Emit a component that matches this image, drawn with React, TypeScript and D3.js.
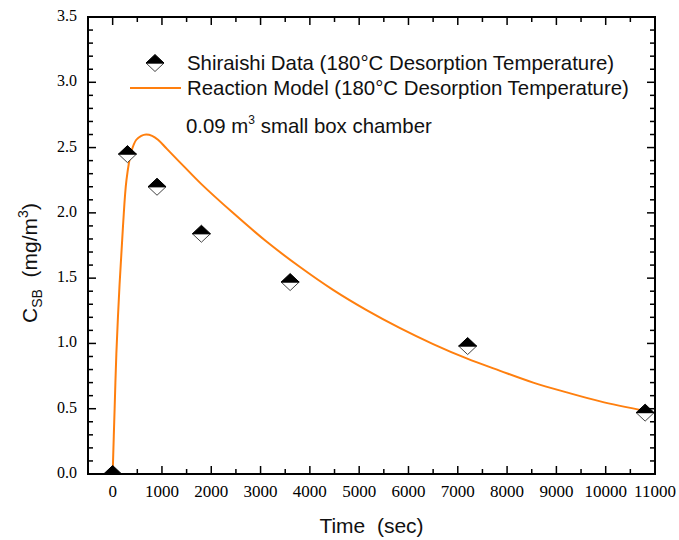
import React from 'react';
import * as d3 from 'd3';

// Shiraishi measured data
const dataTime = [0, 300, 900, 1800, 3600, 7200, 10800];
const dataConc = [0, 2.45, 2.2, 1.84, 1.47, 0.98, 0.47];

// reaction model curve
const modelTime = [0, 40, 75, 140, 210, 280, 380, 480, 580, 680, 800, 920, 1100, 1460, 1800, 2440, 3120, 3800, 4470, 5150, 5830, 6500, 7180, 7860, 8530, 9210, 9890, 10830];
const modelConc = [0, 0.5, 0.92, 1.45, 1.9, 2.25, 2.47, 2.56, 2.59, 2.6, 2.59, 2.56, 2.49, 2.35, 2.22, 2.0, 1.78, 1.585, 1.41, 1.255, 1.117, 0.995, 0.885, 0.79, 0.7, 0.625, 0.556, 0.48];

const xTicks = [0, 1000, 2000, 3000, 4000, 5000, 6000, 7000, 8000, 9000, 10000, 11000];
const yTicks = [0, 0.5, 1, 1.5, 2, 2.5, 3, 3.5];

const W = 679;
const H = 540;
const left = 88, right = 655, top = 17, bottom = 474;
const ORANGE = '#ff7f0e';

const Diamond = ({ cx, cy }: { cx: number; cy: number }) => {
  const a = 9, b = 8.5;
  return (
    <g>
      <path d={`M${cx - a},${cy}L${cx},${cy + b}L${cx + a},${cy}Z`} fill="#fff" stroke="#444" strokeWidth={1} />
      <path d={`M${cx - a},${cy}L${cx},${cy - b}L${cx + a},${cy}Z`} fill="#000" stroke="#000" strokeWidth={1} />
    </g>
  );
};

export default function App() {
  const x = d3.scaleLinear().domain([-500, 11000]).range([left, right]);
  const y = d3.scaleLinear().domain([0, 3.5]).range([bottom, top]);

  const line = d3
    .line<number>()
    .x((_, i) => x(modelTime[i]))
    .y((d) => y(d))
    .curve(d3.curveCatmullRom.alpha(0.5));

  const xMinor = d3.range(-500, 11001, 500);
  const yMinor = d3.range(0, 3.51, 0.1);
  const serif = '"Liberation Serif", "Times New Roman", serif';
  const sans = '"Liberation Sans", Arial, sans-serif';

  return (
    <svg width={W} height={H} style={{ position: 'absolute', left: 0, top: 0, background: '#fff' }}>
      <defs>
        <clipPath id="plot">
          <rect x={left} y={top} width={right - left} height={bottom - top} />
        </clipPath>
      </defs>

      {/* ticks on all four sides, pointing in */}
      <g stroke="#000" strokeWidth={1.5}>
        {xMinor.map((t) => {
          const major = t % 1000 === 0;
          const len = major ? 8 : 5;
          const px = x(t);
          if (px <= left + 1 || px >= right - 1) return null;
          return (
            <g key={'x' + t}>
              <line x1={px} x2={px} y1={bottom} y2={bottom - len} />
              <line x1={px} x2={px} y1={top} y2={top + len} />
            </g>
          );
        })}
        {yMinor.map((v, i) => {
          const major = i % 5 === 0;
          const len = major ? 8 : 5;
          const py = y(v);
          if (py >= bottom - 1 || py <= top + 1) return null;
          return (
            <g key={'y' + i}>
              <line x1={left} x2={left + len} y1={py} y2={py} />
              <line x1={right} x2={right - len} y1={py} y2={py} />
            </g>
          );
        })}
      </g>

      <g clipPath="url(#plot)">
        <path d={line(modelConc) || ''} fill="none" stroke={ORANGE} strokeWidth={2} />
        {dataTime.map((t, i) => (
          <Diamond key={i} cx={x(t)} cy={y(dataConc[i])} />
        ))}
      </g>

      <rect x={left} y={top} width={right - left} height={bottom - top} fill="none" stroke="#000" strokeWidth={2} />

      {/* tick labels */}
      <g fontFamily={serif} fontSize={17} fill="#000">
        {xTicks.map((t) => (
          <text key={t} x={x(t)} y={497} textAnchor="middle">
            {t}
          </text>
        ))}
      </g>
      <g fontFamily={serif} fontSize={16} fill="#000">
        {yTicks.map((v) => (
          <text key={v} x={77} y={y(v) + 4} textAnchor="end">
            {d3.format('.1f')(v)}
          </text>
        ))}
      </g>

      {/* axis titles */}
      <text x={(left + right) / 2} y={533} textAnchor="middle" fontFamily={sans} fontSize={21} fill="#111">
        Time{'\u00a0\u00a0'}(sec)
      </text>
      <text transform="translate(37,263) rotate(-90)" textAnchor="middle" fontFamily={sans} fontSize={21} fill="#111">
        C<tspan fontSize={14} dy={5}>SB</tspan>
        <tspan dy={-5}>{'\u00a0\u00a0'}(mg/m</tspan>
        <tspan fontSize={14} dy={-9}>3</tspan>
        <tspan dy={9}>)</tspan>
      </text>

      {/* legend */}
      <Diamond cx={155} cy={63} />
      <line x1={130} x2={181} y1={88} y2={88} stroke={ORANGE} strokeWidth={2} />
      <g fontFamily={sans} fontSize={20.4} fill="#111">
        <text x={187} y={70}>Shiraishi Data (180°C Desorption Temperature)</text>
        <text x={187} y={95}>Reaction Model (180°C Desorption Temperature)</text>
        <text x={186} y={133}>
          0.09 m<tspan fontSize={12} dy={-9}>3</tspan>
          <tspan dy={9}> small box chamber</tspan>
        </text>
      </g>
    </svg>
  );
}
